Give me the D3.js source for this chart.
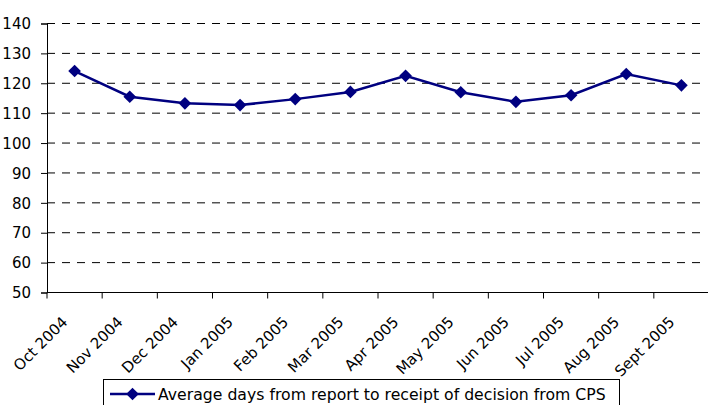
<!DOCTYPE html>
<html><head><meta charset="utf-8">
<script src="https://cdn.jsdelivr.net/npm/d3@7"></script>
<style>
html,body{margin:0;padding:0;background:#fff;}
svg{display:block;}
text{font-family:"DejaVu Sans",sans-serif;font-size:15px;fill:#000;}
</style></head>
<body>
<script>
const categories = ["Oct 2004","Nov 2004","Dec 2004","Jan 2005","Feb 2005","Mar 2005","Apr 2005","May 2005","Jun 2005","Jul 2005","Aug 2005","Sept 2005"];
const avgDays = [124.1, 115.5, 113.3, 112.7, 114.7, 117.1, 122.5, 117.0, 113.8, 116.0, 123.1, 119.3];
const yTicks = [50, 60, 70, 80, 90, 100, 110, 120, 130, 140];
const seriesName = "Average days from report to receipt of decision from CPS";

const W = 708, H = 405;
const svg = d3.select("body").append("svg").attr("width", W).attr("height", H);

const x = d3.scaleBand().domain(categories).range([47, 709]).padding(0);
const y = d3.scaleLinear().domain([50, 140]).range([292.5, 23.5]);

// gridlines
svg.append("g").selectAll("line").data(yTicks.filter(t => t > 50)).join("line")
  .attr("x1", 47).attr("x2", 702)
  .attr("y1", d => y(d)).attr("y2", d => y(d))
  .attr("stroke", "#000").attr("stroke-width", 1)
  .attr("stroke-dasharray", "8,7");

// y axis
const yAxis = svg.append("g").attr("transform", "translate(47,0)")
  .call(d3.axisLeft(y).tickValues(yTicks).tickSize(6).tickPadding(10).tickFormat(d3.format("d")));
yAxis.select(".domain").attr("stroke", "#000");
yAxis.selectAll(".tick line").attr("stroke", "#000");
yAxis.selectAll("text").style("font-size", "15px").style("font-family", "DejaVu Sans").attr("dy", "0.35em");

// x axis
svg.append("line").attr("x1", 47).attr("x2", W).attr("y1", y(50)).attr("y2", y(50)).attr("stroke", "#000");
const bounds = categories.map(c => x(c)).concat([x.range()[1]]);
svg.append("g").selectAll("line").data(bounds).join("line")
  .attr("x1", d => d).attr("x2", d => d)
  .attr("y1", y(50)).attr("y2", y(50) + 6).attr("stroke", "#000");

svg.append("g").selectAll("text").data(categories).join("text")
  .attr("text-anchor", "end")
  .attr("transform", d => `translate(${x(d) + x.bandwidth() / 2 - 6},${y(50) + 30.5}) rotate(-45)`)
  .text(d => d);

// line
const cx = d => x(d) + x.bandwidth() / 2;
const pts = categories.map((c, i) => [cx(c), y(avgDays[i])]);
svg.append("path").attr("d", d3.line()(pts))
  .attr("fill", "none").attr("stroke", "#000080").attr("stroke-width", 2.5);
svg.append("g").selectAll("path").data(pts).join("path")
  .attr("transform", d => `translate(${d[0]},${d[1]}) rotate(45)`)
  .attr("d", d3.symbol().type(d3.symbolSquare).size(80))
  .attr("fill", "#000080");

// legend
const lg = svg.append("g");
lg.append("rect").attr("x", 103.5).attr("y", 379.5).attr("width", 516).attr("height", 40)
  .attr("fill", "#fff").attr("stroke", "#000");
lg.append("line").attr("x1", 110).attr("x2", 155).attr("y1", 394).attr("y2", 394)
  .attr("stroke", "#000080").attr("stroke-width", 2.5);
lg.append("path").attr("transform", "translate(132.5,394) rotate(45)")
  .attr("d", d3.symbol().type(d3.symbolSquare).size(80)).attr("fill", "#000080");
lg.append("text").attr("x", 158).attr("y", 400).style("font-size", "15.7px").text(seriesName);
</script>
</body></html>
